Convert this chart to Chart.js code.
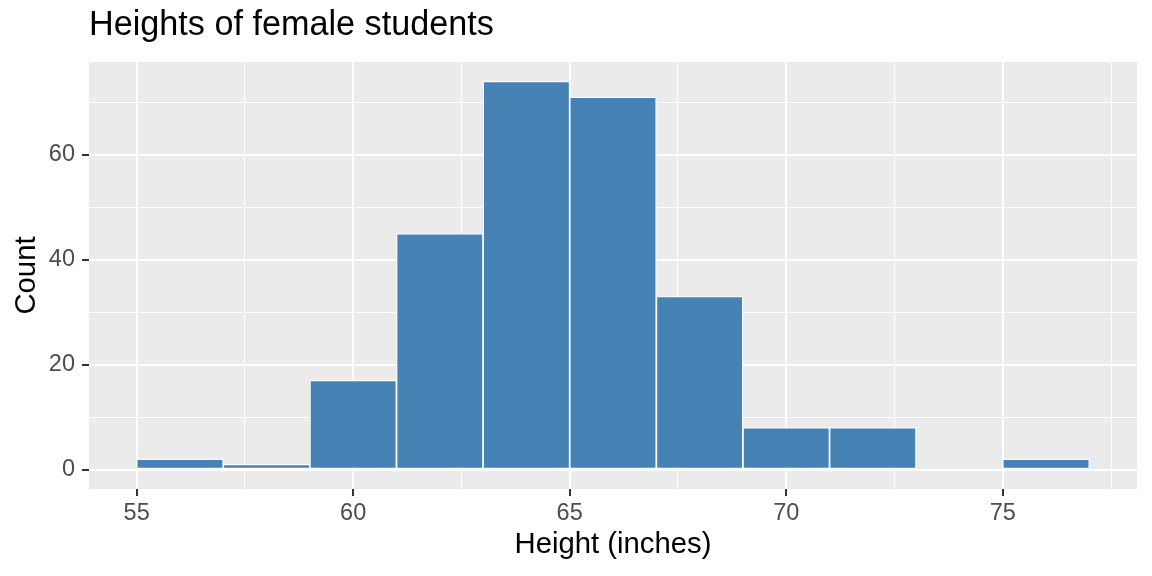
<!DOCTYPE html>
<html>
<head>
<meta charset="utf-8">
<title>Heights of female students</title>
<script src="https://cdn.jsdelivr.net/npm/chart.js@4/dist/chart.umd.min.js"></script>
<style>
  body { margin: 0; background: #fff; }
  #wrap { width: 1152px; height: 576px; }
</style>
</head>
<body>
<div id="wrap"><canvas id="myChart" width="1152" height="576"></canvas></div>
<script>
// histogram bins (2 inch wide), centre of each bin and its count
const binCenters = [56, 58, 60, 62, 64, 66, 68, 70, 72, 74, 76];
const counts = [2, 1, 17, 45, 74, 71, 33, 8, 8, 0, 2];

// axis ranges as ggplot draws them (5% expansion)
const xRange = [53.9, 78.1];
const yRange = [-3.7, 77.7];
const xMajorTicks = [55, 60, 65, 70, 75];
const yMajorTicks = [0, 20, 40, 60];

const FONT = "'Liberation Sans', Arial, sans-serif";

// grey panel behind the grid
const panelBg = {
    id: 'panelBg',
    beforeDraw(chart) {
        const {ctx, chartArea: a} = chart;
        ctx.save();
        ctx.fillStyle = '#EBEBEB';
        ctx.fillRect(a.left, a.top, a.width, a.height);
        ctx.restore();
    }
};

function isMajor(list, c) {
    if (!c || !c.tick) return false;
    const v = c.tick.value;
    return list.some(t => Math.abs(t - v) < 1e-6);
}

function majorLabel(list, v) {
    return list.some(t => Math.abs(t - v) < 1e-6) ? String(v) : '';
}

window.onload = function () {
    const ctx = document.getElementById('myChart').getContext('2d');
    new Chart(ctx, {
        type: 'bar',
        data: {
            datasets: [{
                label: 'Count',
                data: binCenters.map((c, i) => ({x: c, y: counts[i]})),
                backgroundColor: '#4682B4',
                borderColor: '#FFFFFF',
                borderWidth: 1.2,
                borderSkipped: false,
                barPercentage: 1,
                categoryPercentage: 1
            }]
        },
        options: {
            responsive: false,
            animation: false,
            layout: {padding: {left: 0, right: 15, top: 0, bottom: 0}},
            plugins: {
                legend: {display: false},
                tooltip: {enabled: false},
                title: {
                    display: true,
                    text: 'Heights of female students',
                    align: 'start',
                    fullSize: false,
                    color: '#000',
                    font: {family: FONT, size: 34.2, weight: 'normal'},
                    padding: {top: 4.6, bottom: 16.36}
                }
            },
            scales: {
                x: {
                    type: 'linear',
                    offset: false,
                    min: xRange[0],
                    max: xRange[1],
                    afterFit(scale) { scale.height = 87; },
                    border: {display: false},
                    grid: {
                        offset: false,
                        color: '#FFFFFF',
                        lineWidth: c => isMajor(xMajorTicks, c) ? 2 : 1,
                        tickColor: c => isMajor(xMajorTicks, c) ? '#333333' : 'rgba(0,0,0,0)',
                        tickWidth: 2,
                        tickLength: 7
                    },
                    ticks: {
                        stepSize: 2.5,
                        includeBounds: false,
                        autoSkip: false,
                        maxRotation: 0,
                        padding: 3.5,
                        color: '#4D4D4D',
                        font: {family: FONT, size: 23.5},
                        callback: v => majorLabel(xMajorTicks, v)
                    },
                    title: {
                        display: true,
                        text: 'Height (inches)',
                        color: '#000',
                        font: {family: FONT, size: 29.3},
                        padding: {top: 0, bottom: 13.5}
                    }
                },
                y: {
                    type: 'linear',
                    min: yRange[0],
                    max: yRange[1],
                    afterFit(scale) { scale.width = 89; },
                    border: {display: false},
                    grid: {
                        color: '#FFFFFF',
                        lineWidth: c => isMajor(yMajorTicks, c) ? 2 : 1,
                        tickColor: c => isMajor(yMajorTicks, c) ? '#333333' : 'rgba(0,0,0,0)',
                        tickWidth: 2,
                        tickLength: 7
                    },
                    ticks: {
                        stepSize: 10,
                        includeBounds: false,
                        autoSkip: false,
                        padding: 7,
                        color: '#4D4D4D',
                        font: {family: FONT, size: 23.5},
                        callback: v => majorLabel(yMajorTicks, v)
                    },
                    title: {
                        display: true,
                        text: 'Count',
                        color: '#000',
                        font: {family: FONT, size: 29.3},
                        padding: {top: 9, bottom: 0}
                    }
                }
            }
        },
        plugins: [panelBg]
    });
};
</script>
</body>
</html>
